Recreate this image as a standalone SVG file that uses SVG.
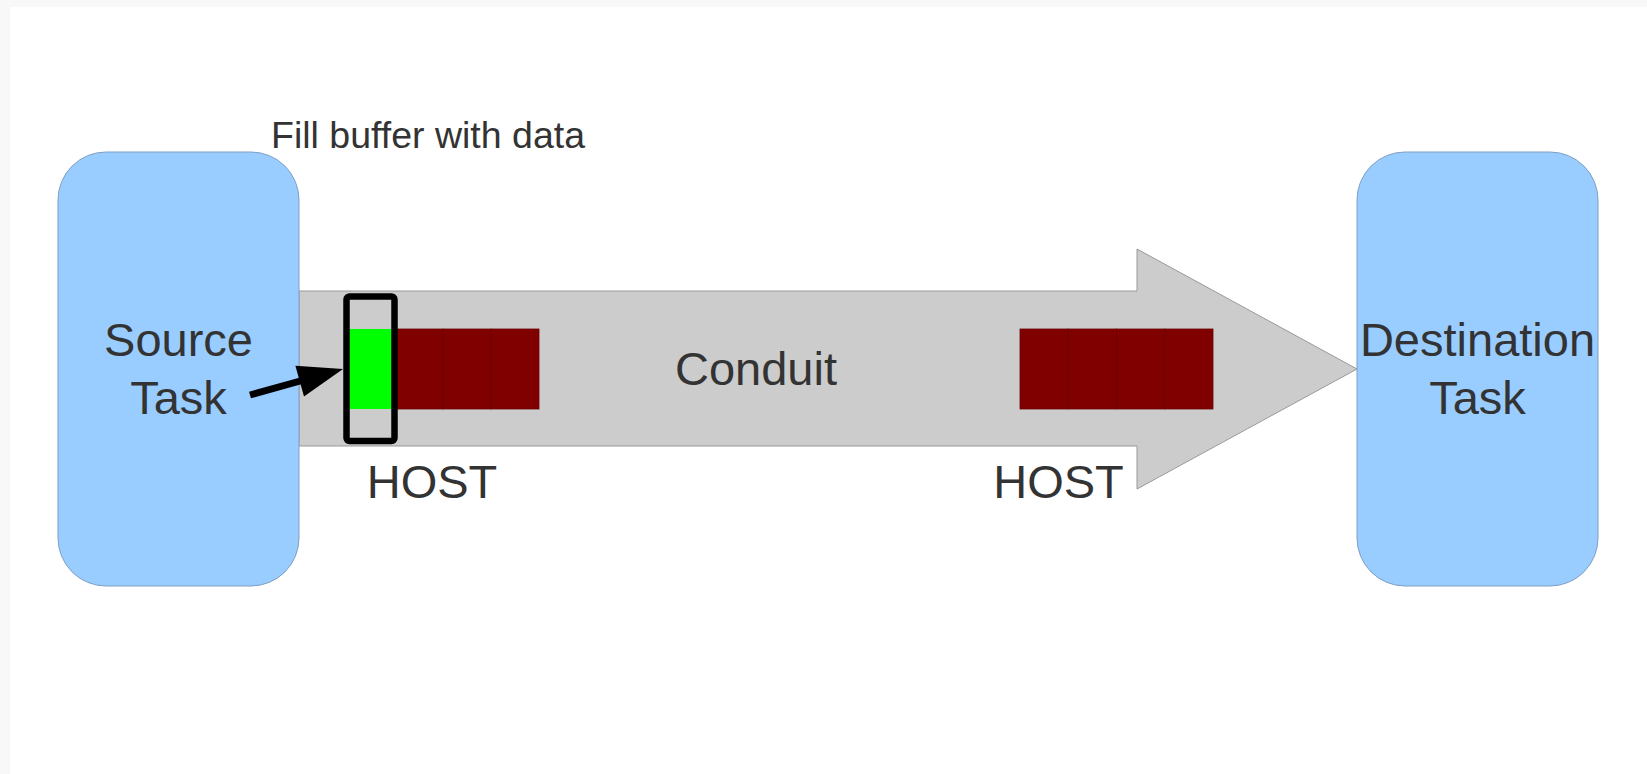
<svg xmlns="http://www.w3.org/2000/svg" width="1647" height="774" viewBox="0 0 1647 774">
  <style>
    .lbl { font-family: "Liberation Sans", Arial, sans-serif; fill: #333333; }
    .big { font-size: 47px; }
    .task { fill: #99ccff; stroke: #7f9fc4; stroke-width: 1; }
    .cell { fill: #800000; stroke: #6a0000; stroke-width: 0.8; }
  </style>
  <rect x="0" y="0" width="1647" height="774" fill="#f8f8f8"/>
  <rect x="10" y="7" width="1637" height="767" fill="#ffffff"/>

  <g id="conduit">
    <polygon points="299,291 1137,291 1137,249 1357,369 1137,489 1137,446 299,446" fill="#cccccc" stroke="#999999" stroke-width="1"/>
    <text class="lbl big" x="756" y="385" text-anchor="middle">Conduit</text>
  </g>

  <g id="source-task">
    <rect class="task" x="58" y="152" width="241" height="434" rx="48" ry="48"/>
    <text class="lbl big" x="178.5" y="356" text-anchor="middle">Source</text>
    <text class="lbl big" x="178.5" y="414" text-anchor="middle">Task</text>
  </g>

  <g id="destination-task">
    <rect class="task" x="1357" y="152" width="241" height="434" rx="48" ry="48"/>
    <text class="lbl big" x="1477.5" y="356" text-anchor="middle">Destination</text>
    <text class="lbl big" x="1477.5" y="414" text-anchor="middle">Task</text>
  </g>

  <g id="source-buffer">
    <rect x="347" y="329" width="48" height="80" fill="#00ff00"/>
    <rect class="cell" x="395" y="329" width="48" height="80"/>
    <rect class="cell" x="443" y="329" width="48" height="80"/>
    <rect class="cell" x="491" y="329" width="48" height="80"/>
    <rect x="346.5" y="296.5" width="48" height="144.5" rx="3" fill="none" stroke="#000000" stroke-width="6.5"/>
    <text class="lbl big" x="432" y="498" text-anchor="middle">HOST</text>
  </g>

  <g id="destination-buffer">
    <rect class="cell" x="1020" y="329" width="48.25" height="80"/>
    <rect class="cell" x="1068.25" y="329" width="48.25" height="80"/>
    <rect class="cell" x="1116.5" y="329" width="48.25" height="80"/>
    <rect class="cell" x="1164.75" y="329" width="48.25" height="80"/>
    <text class="lbl big" x="1058.5" y="498" text-anchor="middle">HOST</text>
  </g>

  <g id="fill-label">
    <text class="lbl" x="271" y="148" font-size="37.5">Fill buffer with data</text>
  </g>

  <g id="connectors">
    <line x1="250" y1="395" x2="302" y2="380.5" stroke="#000000" stroke-width="7"/>
    <polygon points="343,369 295.4,365.7 304,396.5" fill="#000000"/>
  </g>
</svg>
